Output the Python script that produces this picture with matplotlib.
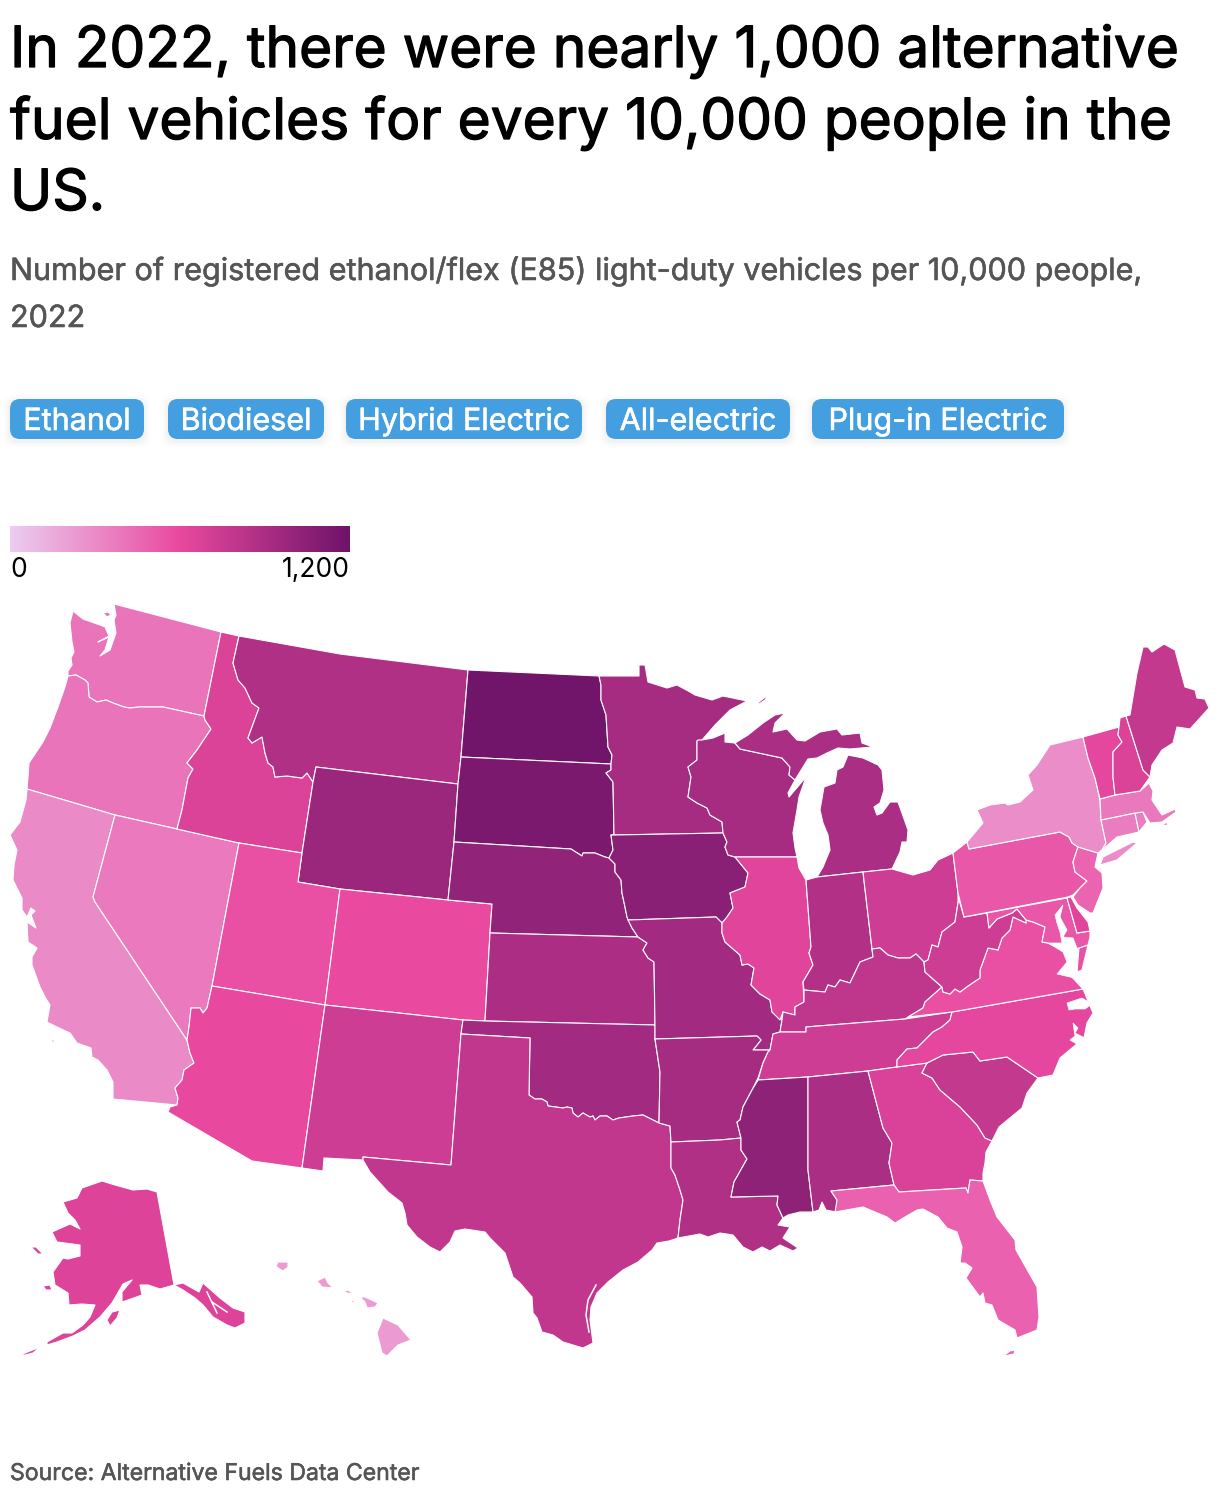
import numpy as np
import matplotlib
matplotlib.use("Agg")
import matplotlib.pyplot as plt
import matplotlib.patheffects as pe
from matplotlib.colors import LinearSegmentedColormap, Normalize
from matplotlib.patches import Polygon, FancyBboxPatch

# values (vehicles per 10,000 people)
states = ["WA", "OR", "CA", "NV", "ID", "MT", "WY", "UT", "CO", "AZ", "NM", "ND", "SD", "NE", "KS", "OK", "TX",
          "MN", "IA", "MO", "AR", "LA", "WI", "IL", "MI", "IN", "OH", "KY", "TN", "MS", "AL", "GA", "FL", "SC",
          "NC", "VA", "WV", "MD", "DE", "PA", "NJ", "NY", "CT", "RI", "MA", "VT", "NH", "ME", "AK", "HI"]
values = [405, 405, 305, 377, 673, 883, 980, 570, 600, 605, 736, 1190, 1141, 1030, 900, 946, 800,
          932, 1063, 946, 930, 883, 932, 645, 907, 868, 736, 810, 736, 1044, 907, 675, 486, 785,
          625, 570, 736, 530, 640, 532, 477, 295, 364, 364, 386, 625, 673, 785, 663, 227]

title_lines = ["In 2022, there were nearly 1,000 alternative",
               "fuel vehicles for every 10,000 people in the",
               "US."]
subtitle_lines = ["Number of registered ethanol/flex (E85) light-duty vehicles per 10,000 people,", "2022"]
buttons = ["Ethanol", "Biodiesel", "Hybrid Electric", "All-electric", "Plug-in Electric"]
button_left = [10, 168, 346, 606, 812]
button_right = [144, 324, 582, 790, 1064]
source = "Source: Alternative Fuels Data Center"

# state outlines, traced in picture pixels
shapes = {
    "WA": [[(114,604),(221,632),(204,716),(163,707),(139,707),(130,708),(124,707),(113,703),(106,700),(97,702),(89,697),(88,683),(85,680),(76,675),(68,676),(68,671),(72,665),(71,658),(74,652),(72,642),(70,623),(73,611),(83,619),(100,625),(105,627),(109,636),(98,642),(109,637),(105,650),(100,656),(110,650),(116,633),(114,620),(116,615)],
           [(103,613),(108,612),(111,615),(107,617)]],
    "OR": [[(68,676),(76,675),(85,680),(88,683),(89,697),(97,702),(106,700),(113,703),(124,707),(130,708),(139,707),(163,707),(204,716),(205,720),(211,729),(197,750),(187,763),(193,769),(188,778),(182,810),(177,829),(115,815),(27,789),(28,777),(29,763),(33,757),(43,742),(50,728),(58,707),(65,687)]],
    "CA": [[(27,789),(115,815),(93,897),(95,902),(187,1040),(190,1053),(194,1063),(184,1070),(182,1080),(175,1088),(178,1098),(177,1105),(113,1099),(113,1082),(107,1070),(98,1060),(92,1057),(91,1048),(77,1043),(70,1033),(57,1027),(47,1022),(50,1005),(45,997),(40,987),(32,965),(32,957),(37,948),(28,942),(27,922),(36,928),(31,915),(35,911),(31,908),(27,917),(22,910),(22,898),(13,880),(14,865),(17,850),(10,835),(20,822),(26,800)],
           [(51,1040),(55,1040),(53,1043)]],
    "NV": [[(115,815),(177,829),(239,843),(212,986),(207,1008),(203,1013),(200,1008),(191,1008),(189,1027),(187,1040),(95,902),(93,897)]],
    "ID": [[(221,632),(239,636),(233,663),(238,680),(245,688),(252,703),(259,708),(252,727),(248,738),(252,743),(262,737),(265,753),(268,763),(273,767),(275,777),(287,776),(302,778),(307,773),(313,782),(302,853),(239,843),(177,829),(182,810),(188,778),(193,769),(187,763),(197,750),(211,729),(205,720),(204,716)]],
    "MT": [[(239,636),(340,654),(468,670),(461,757),(458,784),(316,767),(313,782),(307,773),(302,778),(287,776),(275,777),(273,767),(268,763),(265,753),(262,737),(252,743),(248,738),(252,727),(259,708),(252,703),(245,688),(238,680),(233,663)]],
    "WY": [[(316,767),(458,784),(454,842),(448,900),(340,889),(298,882),(302,853),(313,782)]],
    "UT": [[(239,843),(302,853),(298,882),(340,889),(325,1005),(212,986)]],
    "CO": [[(340,889),(448,900),(492,904),(490,933),(485,1021),(463,1020),(325,1005)]],
    "AZ": [[(212,986),(325,1005),(302,1168),(252,1161),(168,1112),(170,1107),(177,1105),(178,1098),(175,1088),(182,1080),(184,1070),(194,1063),(190,1053),(187,1040),(189,1027),(191,1008),(200,1008),(203,1013),(207,1008)]],
    "NM": [[(325,1005),(463,1020),(461,1034),(451,1165),(363,1157),(363,1160),(324,1158),(323,1171),(302,1168)]],
    "ND": [[(468,670),(599,676),(601,685),(601,700),(606,715),(608,747),(612,755),(611,764),(461,757)]],
    "SD": [[(461,757),(611,764),(611,770),(606,773),(613,782),(614,835),(611,835),(613,850),(609,858),(605,857),(595,853),(583,853),(582,856),(571,849),(454,842),(458,784)]],
    "NE": [[(454,842),(571,849),(582,856),(583,853),(595,853),(605,857),(609,858),(615,864),(615,872),(621,880),(622,893),(625,907),(627,917),(632,928),(638,937),(490,933),(492,904),(448,900)]],
    "KS": [[(490,933),(638,937),(647,943),(643,950),(648,958),(654,962),(655,1025),(485,1021)]],
    "OK": [[(463,1020),(485,1021),(655,1025),(655,1039),(660,1072),(659,1123),(643,1115),(633,1116),(619,1118),(613,1120),(607,1116),(600,1116),(595,1120),(593,1116),(590,1117),(583,1113),(578,1117),(573,1113),(572,1108),(567,1107),(563,1108),(548,1106),(547,1102),(542,1099),(535,1099),(529,1095),(530,1038),(461,1034)]],
    "TX": [[(461,1034),(530,1038),(529,1095),(535,1099),(542,1099),(547,1102),(548,1106),(563,1108),(567,1107),(572,1108),(573,1113),(578,1117),(583,1113),(590,1117),(593,1116),(595,1120),(600,1116),(607,1116),(613,1120),(619,1118),(633,1116),(643,1115),(659,1123),(670,1126),(671,1142),(671,1168),(675,1175),(680,1190),(683,1200),(680,1220),(678,1238),(669,1241),(657,1243),(652,1250),(638,1262),(623,1270),(608,1282),(597,1293),(591,1307),(590,1320),(593,1343),(583,1348),(563,1342),(553,1335),(542,1332),(537,1318),(533,1313),(532,1297),(520,1283),(513,1277),(505,1253),(490,1238),(485,1232),(465,1229),(455,1231),(450,1242),(440,1252),(430,1247),(417,1237),(407,1225),(405,1213),(402,1203),(388,1192),(370,1172),(363,1160),(363,1157),(451,1165)]],
    "MN": [[(599,676),(639,676),(639,665),(645,665),(648,682),(667,688),(677,685),(690,692),(695,695),(712,700),(723,696),(747,701),(730,710),(715,725),(702,740),(697,741),(697,760),(688,767),(691,777),(688,797),(697,803),(707,808),(710,815),(722,822),(723,833),(614,835),(613,782),(606,773),(611,770),(611,764),(612,755),(608,747),(606,715),(601,700),(601,685)]],
    "IA": [[(611,835),(614,835),(723,833),(727,842),(725,847),(728,855),(735,857),(748,873),(745,887),(730,893),(733,908),(727,917),(722,923),(716,917),(628,920),(627,917),(625,907),(622,893),(621,880),(615,872),(615,864),(609,858),(613,850)]],
    "MO": [[(628,920),(716,917),(722,923),(722,933),(725,942),(740,955),(742,965),(748,964),(754,968),(751,985),(760,994),(770,1000),(772,1012),(782,1020),(780,1032),(773,1034),(770,1050),(753,1050),(761,1040),(757,1036),(655,1039),(655,1025),(654,962),(648,958),(643,950),(647,943),(638,937),(632,928)]],
    "AR": [[(655,1039),(757,1036),(761,1040),(753,1050),(770,1050),(768,1052),(763,1063),(758,1078),(752,1090),(743,1107),(740,1120),(737,1122),(741,1138),(720,1140),(671,1142),(670,1126),(659,1123),(660,1072)]],
    "LA": [[(671,1142),(720,1140),(741,1138),(741,1150),(747,1159),(734,1182),(731,1197),(778,1196),(777,1205),(783,1218),(778,1225),(790,1227),(783,1238),(798,1248),(793,1251),(780,1245),(770,1251),(762,1247),(753,1252),(743,1247),(733,1235),(720,1233),(708,1237),(700,1234),(678,1238),(680,1220),(683,1200),(680,1190),(675,1175),(671,1168)]],
    "WI": [[(698,740),(702,740),(713,738),(725,733),(725,742),(735,743),(740,749),(782,758),(790,767),(789,775),(795,780),(788,793),(789,797),(806,777),(799,797),(797,810),(793,833),(795,848),(797,857),(735,857),(728,855),(725,847),(727,842),(723,833),(722,822),(710,815),(707,808),(697,803),(688,797),(691,777),(688,767),(697,760),(697,741)]],
    "IL": [[(735,857),(797,857),(799,868),(806,880),(811,947),(809,953),(813,965),(803,982),(804,1002),(795,1007),(795,1015),(783,1012),(780,1020),(772,1012),(770,1000),(760,994),(751,985),(754,968),(748,964),(742,965),(740,955),(725,942),(722,933),(722,923),(727,917),(733,908),(730,893),(745,887),(748,873)]],
    "MI": [[(740,749),(735,743),(748,735),(763,723),(775,715),(785,713),(775,723),(773,732),(787,729),(797,740),(805,741),(820,732),(837,729),(842,735),(860,733),(862,743),(873,747),(850,749),(838,748),(827,753),(817,758),(808,759),(795,780),(789,775),(790,767),(782,758)],
           [(848,755),(863,758),(878,765),(882,770),(884,790),(880,803),(874,807),(877,815),(882,813),(890,802),(898,802),(908,830),(907,842),(902,842),(900,852),(892,869),(863,872),(817,877),(823,867),(830,850),(828,835),(823,823),(820,810),(824,787),(835,783),(837,770),(843,767)],
           [(759,702),(768,695),(765,700),(756,706)]],
    "IN": [[(806,880),(817,877),(863,872),(872,949),(873,957),(860,962),(850,983),(840,980),(835,987),(828,985),(825,992),(804,990),(803,982),(813,965),(809,953),(811,947)]],
    "OH": [[(863,872),(892,869),(913,875),(930,870),(938,860),(953,853),(958,893),(958,903),(955,922),(942,932),(938,947),(932,945),(928,960),(924,962),(916,954),(910,958),(898,958),(888,955),(880,948),(872,949)]],
    "KY": [[(780,1032),(782,1020),(783,1012),(795,1015),(795,1007),(804,1002),(804,990),(825,992),(828,985),(835,987),(840,980),(850,983),(860,962),(873,957),(872,949),(880,948),(888,955),(898,958),(910,958),(916,954),(924,962),(925,972),(942,987),(925,1002),(923,1008),(905,1019),(806,1027),(806,1032)]],
    "TN": [[(758,1080),(763,1063),(768,1052),(770,1050),(773,1034),(780,1032),(806,1032),(806,1027),(905,1019),(952,1012),(950,1020),(942,1027),(933,1032),(927,1038),(917,1048),(907,1049),(897,1060),(897,1067),(868,1071),(808,1077)]],
    "MS": [[(758,1080),(808,1077),(808,1170),(813,1212),(800,1212),(788,1215),(783,1218),(777,1205),(778,1196),(731,1197),(734,1182),(747,1159),(741,1150),(741,1138),(737,1122),(740,1120),(743,1107),(752,1090)]],
    "AL": [[(808,1077),(868,1071),(883,1128),(892,1143),(889,1163),(894,1185),(831,1191),(837,1200),(836,1212),(826,1210),(822,1202),(819,1210),(813,1212),(808,1170)]],
    "GA": [[(868,1071),(897,1067),(927,1063),(922,1073),(932,1078),(940,1090),(960,1107),(977,1125),(985,1138),(992,1141),(986,1152),(985,1163),(983,1173),(983,1181),(970,1180),(968,1193),(966,1188),(899,1192),(894,1185),(889,1163),(892,1143),(883,1128)]],
    "FL": [[(831,1191),(894,1185),(899,1192),(966,1188),(968,1193),(970,1180),(983,1181),(990,1200),(997,1217),(1015,1240),(1016,1250),(1037,1287),(1039,1317),(1037,1330),(1017,1338),(1015,1330),(998,1320),(992,1305),(985,1303),(983,1293),(980,1297),(966,1278),(972,1268),(965,1263),(960,1263),(962,1247),(957,1232),(947,1228),(938,1217),(923,1209),(917,1210),(905,1217),(895,1223),(887,1217),(863,1207),(835,1212),(837,1200)],
           [(1002,1357),(1010,1351),(1015,1350),(1014,1354),(1004,1356)]],
    "SC": [[(927,1063),(943,1055),(973,1052),(980,1061),(1007,1057),(1038,1078),(1027,1093),(1022,1108),(999,1127),(992,1141),(985,1138),(977,1125),(960,1107),(940,1090),(932,1078),(922,1073)]],
    "NC": [[(952,1012),(1083,989),(1093,1013),(1087,1023),(1084,1038),(1072,1048),(1060,1058),(1053,1075),(1038,1078),(1007,1057),(980,1061),(973,1052),(943,1055),(927,1063),(897,1067),(897,1060),(907,1049),(917,1048),(927,1038),(933,1032),(942,1027),(950,1020)]],
    "VA": [[(1013,917),(1026,923),(1026,920),(1033,922),(1045,927),(1042,942),(1048,943),(1057,947),(1065,952),(1070,975),(1083,989),(952,1012),(908,1017),(923,1008),(925,1002),(942,987),(943,992),(950,994),(955,989),(960,992),(968,986),(980,978),(980,970),(988,948),(998,950),(1002,938),(1010,930)],
           [(1079,948),(1088,945),(1082,970),(1077,972)]],
    "WV": [[(958,903),(959,900),(964,917),(987,913),(989,928),(997,919),(1012,913),(1017,909),(1026,920),(1026,923),(1013,917),(1010,930),(1002,938),(998,950),(988,948),(980,970),(980,978),(968,986),(960,992),(955,989),(950,994),(943,992),(942,987),(925,972),(924,962),(928,960),(932,945),(938,947),(942,932),(955,922)]],
    "MD": [[(987,913),(1067,898),(1077,933),(1090,931),(1090,937),(1088,945),(1079,948),(1065,952),(1057,947),(1048,943),(1042,942),(1045,927),(1033,922),(1026,920),(1017,909),(1012,913),(997,919),(989,928)]],
    "DE": [[(1067,898),(1071,897),(1077,908),(1088,922),(1090,931),(1077,933)]],
    "PA": [[(953,853),(967,842),(969,849),(1060,832),(1069,837),(1072,843),(1078,847),(1073,862),(1075,872),(1087,881),(1080,888),(1073,895),(1068,897),(964,917),(958,893)]],
    "NJ": [[(1078,847),(1098,853),(1095,867),(1102,873),(1103,888),(1093,913),(1090,913),(1078,905),(1073,897),(1080,888),(1087,881),(1075,872),(1073,862)]],
    "NY": [[(967,842),(983,823),(977,810),(990,805),(1005,803),(1008,805),(1020,802),(1033,790),(1028,775),(1037,765),(1050,745),(1083,737),(1088,758),(1095,778),(1100,800),(1101,820),(1106,843),(1102,850),(1098,853),(1078,847),(1072,843),(1069,837),(1060,832),(969,849)],
           [(1103,857),(1133,842),(1137,843),(1117,860),(1100,865)]],
    "CT": [[(1101,820),(1135,813),(1139,832),(1117,837),(1102,850),(1106,843)]],
    "RI": [[(1135,813),(1143,812),(1147,822),(1139,832)]],
    "MA": [[(1100,799),(1115,795),(1140,791),(1149,783),(1153,791),(1152,800),(1162,815),(1175,809),(1176,812),(1162,822),(1150,823),(1143,812),(1135,813),(1101,820)],
           [(1161,826),(1167,822),(1168,825)]],
    "VT": [[(1083,737),(1119,727),(1118,735),(1122,742),(1113,752),(1113,777),(1115,795),(1100,799),(1095,778),(1088,758)]],
    "NH": [[(1119,727),(1120,718),(1126,716),(1143,770),(1150,777),(1140,791),(1115,795),(1113,777),(1113,752),(1122,742),(1118,735)]],
    "ME": [[(1126,716),(1130,715),(1137,673),(1143,647),(1148,647),(1152,652),(1164,644),(1175,650),(1185,687),(1195,690),(1197,698),(1205,699),(1209,708),(1190,729),(1177,727),(1173,743),(1162,750),(1152,765),(1150,777),(1143,770)]],
    "AK": [[(157,1192),(174,1285),(160,1289),(148,1285),(140,1285),(142,1295),(128,1300),(122,1302),(122,1292),(132,1280),(123,1284),(112,1303),(100,1317),(85,1330),(73,1336),(57,1342),(47,1345),(47,1342),(63,1333),(72,1333),(83,1325),(90,1317),(95,1305),(82,1304),(69,1305),(68,1293),(55,1285),(53,1272),(63,1258),(68,1259),(80,1256),(80,1245),(57,1242),(52,1232),(70,1224),(80,1229),(75,1220),(68,1213),(63,1202),(77,1198),(82,1188),(102,1181),(115,1185),(133,1190),(147,1189)],
           [(174,1285),(183,1283),(199,1292),(203,1283),(220,1298),(233,1308),(245,1312),(245,1323),(235,1328),(227,1325),(213,1317),(203,1305),(195,1298),(183,1290)],
           [(107,1320),(112,1312),(120,1310),(117,1318),(110,1326)],
           [(31,1247),(36,1247),(43,1254),(38,1254)],
           [(43,1286),(50,1285),(52,1290),(46,1290)],
           [(20,1355),(30,1351),(40,1347),(33,1353),(25,1355)]],
    "HI": [[(276,1266),(278,1262),(288,1262),(288,1267),(283,1271),(278,1268)],
           [(317,1281),(325,1277),(328,1283),(333,1288),(322,1287)],
           [(343,1292),(348,1290),(354,1294),(347,1293)],
           [(350,1300),(355,1301),(353,1303)],
           [(360,1297),(365,1297),(378,1303),(375,1307),(367,1308),(365,1302)],
           [(383,1318),(398,1325),(411,1340),(398,1345),(387,1356),(382,1353),(377,1333)]],
}
# bays and sounds on top of the states
water = [
    [(1063,905),(1060,917),(1067,930),(1063,937),(1073,938),(1077,948),(1076,972),(1082,980),(1070,977),(1057,974),(1067,962),(1063,952),(1048,943),(1062,943),(1060,932),(1057,923),(1055,915)],
    [(1067,1003),(1082,998),(1092,1004),(1085,1009),(1075,1009),(1069,1010)],
    [(1073,1023),(1078,1028),(1075,1033),(1085,1038),(1080,1046),(1070,1040),(1075,1036)],
]
channels = [
    [(596,1285),(588,1300),(586,1315),(589,1332)],
    [(207,1292),(217,1313)],
    [(212,1302),(227,1312)],
]

cmap = LinearSegmentedColormap.from_list("pinks", ["#eccdf0", "#e9499f", "#6e1469"])
norm = Normalize(0, 1200)

plt.rcParams["font.family"] = ["Inter", "DejaVu Sans"]
fig = plt.figure(figsize=(12.2, 15.02), dpi=100)
ax = fig.add_axes([0, 0, 1, 1])
ax.set_xlim(0, 1220)
ax.set_ylim(1502, 0)
ax.axis("off")

for st, val in zip(states, values):
    for ring in shapes[st]:
        ax.add_patch(Polygon(ring, closed=True, facecolor=cmap(norm(val)), edgecolor="white", linewidth=0.8, joinstyle="round"))
for ring in water:
    ax.add_patch(Polygon(ring, closed=True, facecolor="white", edgecolor="white", linewidth=0.5))
for ch in channels:
    ax.plot([p[0] for p in ch], [p[1] for p in ch], color="white", lw=1.1)


def heavy(color, w):
    return [pe.withStroke(linewidth=w, foreground=color)]


# title etc
for line, y in zip(title_lines, [67, 139, 210]):
    ax.text(10, y, line, fontsize=40.9, color="black", va="baseline", path_effects=heavy("black", 0.9))
for line, y in zip(subtitle_lines, [280, 327]):
    ax.text(10, y, line, fontsize=22, color="#555555", va="baseline", path_effects=heavy("#555555", 0.4))

for label, x0, x1 in zip(buttons, button_left, button_right):
    for grow, a in [(6, 0.012), (4, 0.015), (2, 0.02)]:
        ax.add_patch(FancyBboxPatch((x0 - grow + 10, 399 - grow + 10 + 2), x1 - x0 + 2 * grow - 20, 40 + 2 * grow - 20,
                                    boxstyle="round,pad=10,rounding_size=10", fc="black", ec="none", alpha=a))
    ax.add_patch(FancyBboxPatch((x0 + 10, 409), x1 - x0 - 20, 20, boxstyle="round,pad=10,rounding_size=10",
                                fc="#439fe0", ec="none"))
    ax.text((x0 + x1) / 2, 430, label, fontsize=22, color="white", ha="center", va="baseline",
            path_effects=heavy("white", 0.4))

# legend bar
grad = np.linspace(0, 1200, 340).reshape(1, -1)
ax.imshow(grad, cmap=cmap, norm=norm, extent=(10, 350, 552, 526), aspect="auto", zorder=2)
ax.set_xlim(0, 1220)
ax.set_ylim(1502, 0)
ax.text(10, 577, "0", fontsize=19, color="black", va="baseline")
ax.text(350, 577, "1,200", fontsize=19, color="black", ha="right", va="baseline")

ax.text(10, 1480, source, fontsize=16.6, color="#555555", va="baseline", path_effects=heavy("#555555", 0.4))

fig.savefig("out.png", dpi=100)
